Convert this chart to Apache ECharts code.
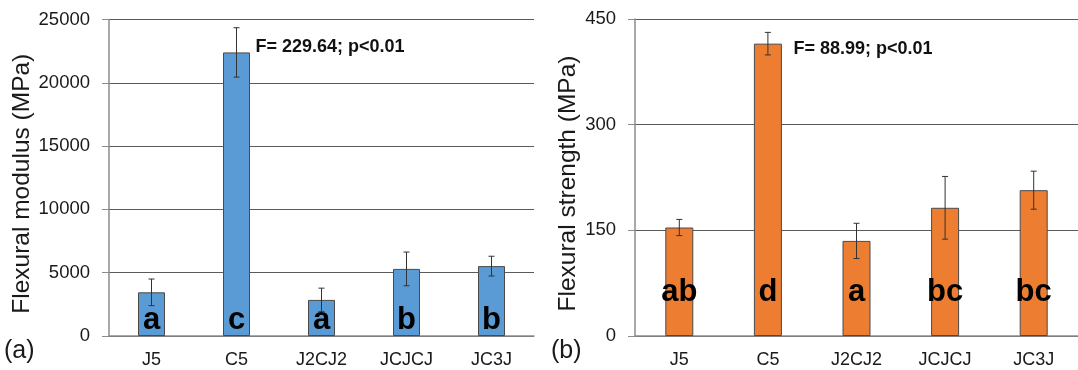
<!DOCTYPE html>
<html>
<head>
<meta charset="utf-8">
<script src="https://cdn.jsdelivr.net/npm/echarts@6/dist/echarts.min.js"></script>
<style>
  html, body { margin: 0; padding: 0; background: #fff; }
  #chart { width: 1078px; height: 370px; }
</style>
</head>
<body>
<div id="chart"></div>
<script>
const categories = ['J5', 'C5', 'J2CJ2', 'JCJCJ', 'JC3J']

// (a) 弯曲模量
const modulus = [3450, 22400, 2850, 5300, 5520]
const modulusErr = [1050, 1950, 930, 1330, 780]
const modulusLetters = ['a', 'c', 'a', 'b', 'b']

// (b) 弯曲强度
const strength = [154, 415, 135, 182, 207]
const strengthErr = [11.5, 16, 25, 44.5, 27]
const strengthLetters = ['ab', 'd', 'a', 'bc', 'bc']

const FONT = '"Liberation Sans", Arial, sans-serif'
const TEXT = '#1a1a1a'
const GRID_LINE = '#5a5a5a'
const AXIS_LINE = '#8c8c8c'

const chart = echarts.init(document.getElementById('chart'))

// 误差线
const errorRender = (params, api) => {
  const x = api.value(0)
  const v = api.value(1)
  const e = api.value(2)
  const hi = api.coord([x, v + e])
  const lo = api.coord([x, v - e])
  const cap = 3
  const style = { stroke: '#333', lineWidth: 1 }
  return {
    type: 'group',
    children: [
      { type: 'line', shape: { x1: hi[0], y1: hi[1], x2: lo[0], y2: lo[1] }, style },
      { type: 'line', shape: { x1: hi[0] - cap, y1: hi[1], x2: hi[0] + cap, y2: hi[1] }, style },
      { type: 'line', shape: { x1: lo[0] - cap, y1: lo[1], x2: lo[0] + cap, y2: lo[1] }, style }
    ]
  }
}

const xAxisBase = (gridIndex) => ({
  type: 'category',
  gridIndex,
  data: categories,
  axisLine: { lineStyle: { color: AXIS_LINE, width: 1.5 } },
  axisTick: { show: false },
  axisLabel: { color: TEXT, fontSize: 18, fontFamily: FONT, margin: 15 }
})

const yAxisBase = (gridIndex, max, interval, name, nameGap) => ({
  type: 'value',
  gridIndex,
  min: 0,
  max,
  interval,
  name,
  nameLocation: 'middle',
  nameGap,
  nameTextStyle: { color: TEXT, fontSize: 24.5, fontFamily: FONT, padding: [0, 12, 0, 0] },
  axisLine: { show: true, lineStyle: { color: AXIS_LINE, width: 1.5 } },
  axisTick: { show: true, length: 7, lineStyle: { color: AXIS_LINE } },
  axisLabel: { color: TEXT, fontSize: 18.5, fontFamily: FONT, margin: 19, formatter: (v) => String(v) },
  splitLine: { lineStyle: { color: GRID_LINE, width: 1 } }
})

const option = {
  animation: false,
  textStyle: { fontFamily: FONT },
  grid: [
    { left: 109, top: 19.5, width: 425, height: 316.5 },
    { left: 635, top: 19, width: 444, height: 317 }
  ],
  xAxis: [xAxisBase(0), xAxisBase(1)],
  yAxis: [
    yAxisBase(0, 25000, 5000, 'Flexural modulus (MPa)', 71),
    yAxisBase(1, 450, 150, 'Flexural strength (MPa)', 54)
  ],
  graphic: [
    { type: 'text', left: 4, top: 339, style: { text: '(a)', fontSize: 25, fontFamily: FONT, fill: TEXT } },
    { type: 'text', left: 551, top: 339, style: { text: '(b)', fontSize: 25, fontFamily: FONT, fill: TEXT } }
  ],
  series: [
    {
      type: 'bar',
      xAxisIndex: 0,
      yAxisIndex: 0,
      data: modulus,
      barWidth: 27,
      itemStyle: { color: '#5b9bd5', borderColor: '#4a4a4a', borderWidth: 1 },
      label: {
        show: true,
        position: 'insideBottom',
        distance: 0,
        formatter: (p) => modulusLetters[p.dataIndex],
        color: '#000',
        fontSize: 31,
        fontWeight: 'bold',
        fontFamily: FONT
      },
      markPoint: {
        symbol: 'circle',
        symbolSize: 0,
        data: [{ coord: [categories[1], modulus[1]] }],
        label: {
          show: true,
          position: 'right',
          distance: 0,
          offset: [19, -5.5],
          formatter: 'F= 229.64; p<0.01',
          color: '#111',
          fontSize: 18,
          fontWeight: 'bold',
          fontFamily: FONT
        }
      }
    },
    {
      type: 'custom',
      xAxisIndex: 0,
      yAxisIndex: 0,
      renderItem: errorRender,
      encode: { x: 0, y: 1 },
      data: modulus.map((v, i) => [i, v, modulusErr[i]]),
      z: 10
    },
    {
      type: 'bar',
      xAxisIndex: 1,
      yAxisIndex: 1,
      data: strength,
      barWidth: 28,
      itemStyle: { color: '#ed7d31', borderColor: '#4a4a4a', borderWidth: 1 },
      label: {
        show: true,
        position: 'insideBottom',
        distance: 28,
        formatter: (p) => strengthLetters[p.dataIndex],
        color: '#000',
        fontSize: 31,
        fontWeight: 'bold',
        fontFamily: FONT
      },
      markPoint: {
        symbol: 'circle',
        symbolSize: 0,
        data: [{ coord: [categories[1], strength[1]] }],
        label: {
          show: true,
          position: 'right',
          distance: 0,
          offset: [25.5, 5.5],
          formatter: 'F= 88.99; p<0.01',
          color: '#111',
          fontSize: 18,
          fontWeight: 'bold',
          fontFamily: FONT
        }
      }
    },
    {
      type: 'custom',
      xAxisIndex: 1,
      yAxisIndex: 1,
      renderItem: errorRender,
      encode: { x: 0, y: 1 },
      data: strength.map((v, i) => [i, v, strengthErr[i]]),
      z: 10
    }
  ]
}

chart.setOption(option)
window.addEventListener('resize', () => chart.resize())
</script>
</body>
</html>
